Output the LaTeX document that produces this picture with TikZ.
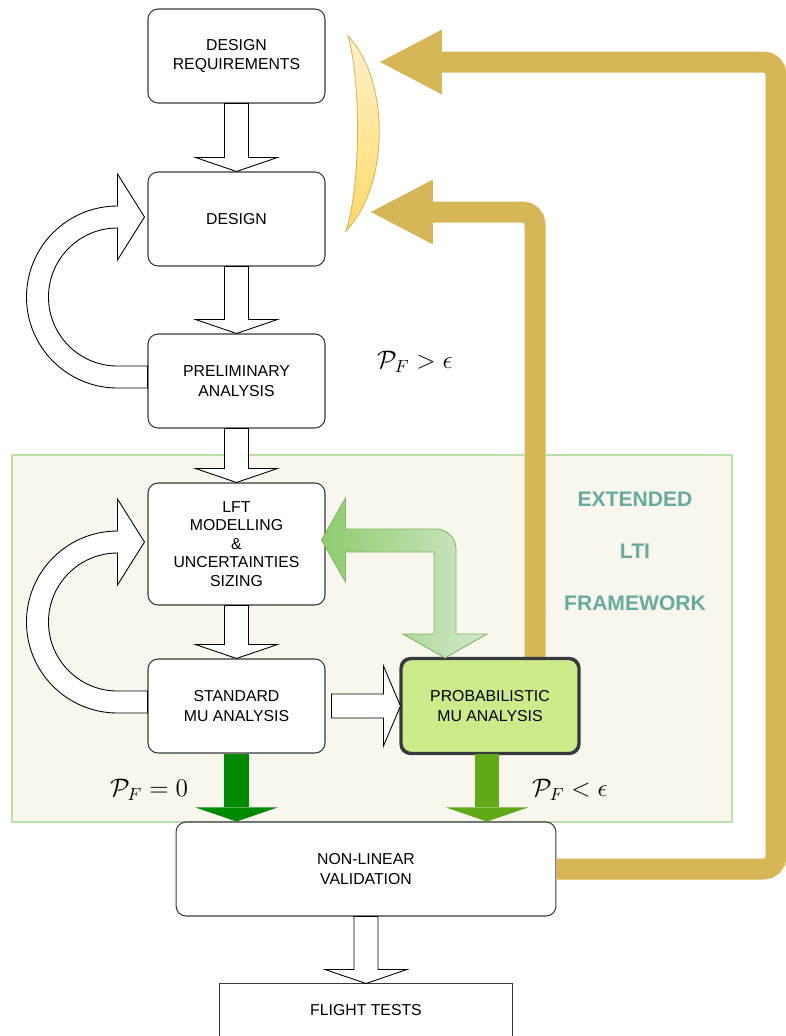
\documentclass[tikz,border=0pt]{standalone}
\usepackage[no-math]{fontspec}
\setmainfont{Liberation Sans}
\usetikzlibrary{arrows.meta,calc}
\definecolor{gold}{HTML}{D6B656}
\definecolor{lenstop}{HTML}{FFF2CC}
\definecolor{lensbot}{HTML}{FFD966}
\definecolor{boxline}{HTML}{36393D}
\definecolor{probfill}{HTML}{CDEB8B}
\definecolor{frameback}{HTML}{F9F7ED}
\definecolor{frameline}{HTML}{B9E0A5}
\definecolor{frameteal}{HTML}{67AB9F}
\definecolor{darkgreen}{HTML}{008A00}
\definecolor{midgreen}{HTML}{60A917}
\definecolor{lightgreen}{HTML}{8FCC6E}
\definecolor{palegreen}{HTML}{D2E8CB}
\definecolor{gradline}{HTML}{82B366}

\tikzset{
  stage/.style={draw=boxline, fill=white, rounded corners=0.2cm, line width=0.6pt,
    minimum width=3.54cm, minimum height=1.88cm, align=center,
    font=\fontsize{9}{11}\selectfont},
  hollow/.style={draw=black, fill=white, line width=0.5pt},
  fullarrow/.style={draw=#1, line width=0.5cm,
    -{Triangle[length=0.28cm, width=1.64cm, line width=0pt, fill=#1]}},
  goldarrow/.style={draw=gold, line width=0.42cm, rounded corners=0.25cm,
    -{Triangle[length=1.24cm, width=1.3cm, line width=0pt, fill=gold]}},
  mathlabel/.style={font=\Large}
}

% hollow block arrow straight down from #1 to #2
\newcommand{\hollowdown}[2]{%
  \draw[hollow] ($(#1.south)+(-12,0)$) -- ($(#1.south |- #2.north)+(-12,14)$) -- ++(-29,0)
    -- (#1.south |- #2.north) -- ++(41,14) -- ++(-29,0) -- ($(#1.south)+(12,0)$) -- cycle;}
% hollow loop arrow from the left side of #1 back up to the box above
\newcommand{\hollowloop}[1]{%
  \draw[hollow] ($(#1.west)+(0,-7)$) -- ++(-30,0) arc (270:90:91) -- ++(0,32)
    -- ++(27,-43) -- ++(-27,-43) -- ++(0,32) arc (90:270:69) -- ++(30,0) -- cycle;}

\begin{document}
\begin{tikzpicture}[x=0.02cm, y=0.02cm]
  \useasboundingbox (0,0) rectangle (786,-1036);
  \clip (0,0) rectangle (786,-1036);

  % Extended LTI framework
  \node[draw=frameline, fill=frameback, line width=0.8pt, minimum width=14.4cm,
    minimum height=7.34cm] (framework) at (372,-638.5) {};
  \node[font=\fontsize{12}{29.5}\selectfont\bfseries, text=frameteal, align=center]
    (fwlabel) at (635,-551.5) {EXTENDED\\LTI\\FRAMEWORK};

  % Lens
  \draw[draw=gold, top color=lenstop, bottom color=lensbot, line width=0.5pt]
    (348,-36) .. controls (390,-80) and (390,-185) .. (346,-231)
    .. controls (361,-185) and (361,-80) .. cycle;
  \coordinate (lensA) at (380,-62);
  \coordinate (lensB) at (371,-212);

  % Stages
  \node[stage] (dreq) at (236.5,-56) {DESIGN\\REQUIREMENTS};
  \node[stage] (design) at (236.5,-219) {DESIGN};
  \node[stage] (prelim) at (236.5,-381) {PRELIMINARY\\ANALYSIS};
  \node[stage, minimum height=2.44cm, font=\fontsize{9}{10.6}\selectfont] (lft) at (236.5,-544)
    {LFT\\MODELLING\\\&\\UNCERTAINTIES\\SIZING};
  \node[stage] (std) at (236.5,-706) {STANDARD\\MU ANALYSIS};
  \node[stage, fill=probfill, line width=1.2pt] (prob) at (490,-706) {PROBABILISTIC\\MU ANALYSIS};
  \node[stage, minimum width=7.6cm] (nlv) at (366,-869) {NON-LINEAR\\VALIDATION};
  \node[stage, draw=none, rounded corners=0pt, minimum width=5.84cm, minimum height=1.04cm]
    (ft) at (366,-1010) {FLIGHT TESTS};
  \draw[draw=boxline, line width=0.6pt] ($(ft.south west)+(0,-10)$) -- (ft.north west)
    -- (ft.north east) -- ($(ft.south east)+(0,-10)$);

  % Feedback to the design
  \draw[goldarrow] (nlv.east) -| ($(lensA)+(396,0)$) -- (lensA);
  \draw[goldarrow] ($(prob.north)+(45,0)$) |- (lensB);
  \draw[draw=boxline, line width=1.2pt, rounded corners=0.2cm] (prob.south west) rectangle (prob.north east);

  % Flow
  \hollowdown{dreq}{design}
  \hollowdown{design}{prelim}
  \hollowdown{prelim}{lft}
  \hollowdown{lft}{std}
  \hollowdown{nlv}{ft}
  \hollowloop{prelim}
  \hollowloop{std}
  \draw[hollow] ($(std.east)+(6,12)$) -- ($(prob.west)+(-17,12)$) -- ++(0,28) -- (prob.west)
    -- ++(-17,-40) -- ++(0,28) -- ($(std.east)+(6,-12)$) -- cycle;

  % Results
  \draw[fullarrow=darkgreen] (std.south) -- (std.south |- nlv.north);
  \draw[fullarrow=midgreen] ($(prob.south)+(-3,0)$) -- ($(prob.south |- nlv.north)+(-3,0)$);

  % Exchange between LFT modelling and probabilistic analysis
  \coordinate (ga) at ($(lft.east)+(-4,4)$);
  \coordinate (gb) at ($(prob.north)+(-45,0)$);
  \draw[draw=gradline, left color=lightgreen, right color=palegreen, line width=0.5pt]
    (ga) -- ++(24,42) -- ++(0,-31) -- ($(ga -| gb)+(-9,11)$) arc (90:0:20)
    -- ($(gb)+(11,24)$) -- ++(31,0) -- (gb) -- ++(-42,24) -- ++(31,0)
    -- ($(ga -| gb)+(-11,-12)$) -- ($(ga)+(24,-12)$) -- ++(0,-30) -- cycle;

  % Probability labels
  \node[mathlabel] (pbig) at (415,-362) {$\mathcal{P}_F > \epsilon$};
  \node[mathlabel] (pzero) at (149,-790) {$\mathcal{P}_F = 0$};
  \node[mathlabel] (psmall) at (570,-790) {$\mathcal{P}_F < \epsilon$};
\end{tikzpicture}
\end{document}
